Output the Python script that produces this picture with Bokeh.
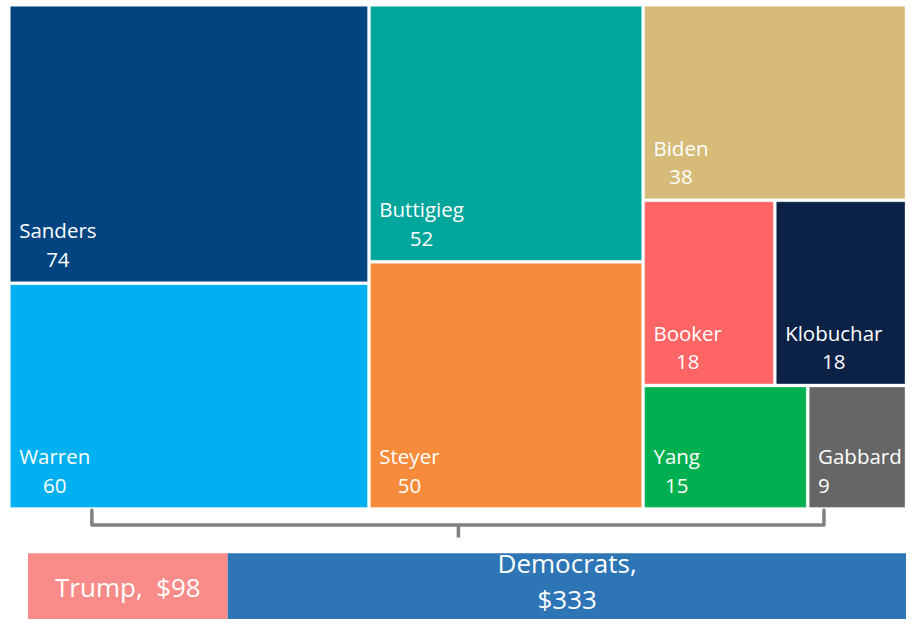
from bokeh.plotting import figure
from bokeh.models import Range1d, ColumnDataSource
from bokeh.core.properties import value
from bokeh.embed import file_html
from bokeh.resources import INLINE

# ---- data ----
candidates = ["Sanders", "Warren", "Buttigieg", "Steyer", "Biden", "Booker", "Klobuchar", "Yang", "Gabbard"]
amounts = [74, 60, 52, 50, 38, 18, 18, 15, 9]
cand_colors = ["#024480", "#00B0F0", "#00A59B", "#F68B3B", "#D6BC78", "#FF6565", "#0B2145", "#00B050", "#666666"]
label_align = ["center", "center", "center", "center", "center", "center", "center", "center", "left"]

totals_names = ["Trump", "Democrats"]
totals_values = [98, 333]
totals_labels = ["Trump,\u00a0 $98", "Democrats,\n$333"]
totals_colors = ["#F98B88", "#2E75B6"]

FONT = "Open Sans"

# ---- squarified treemap layout ----
def squarify(vals, x, y, w, h):
    total = sum(vals)
    scale = w * h / total
    areas = [v * scale for v in vals]
    rects = []

    def worst(row, side):
        s = sum(row)
        return max(max(side * side * r / (s * s), s * s / (side * side * r)) for r in row)

    i = 0
    while i < len(areas):
        side = min(w, h)
        row = [areas[i]]
        j = i + 1
        while j < len(areas) and worst(row + [areas[j]], side) <= worst(row, side):
            row.append(areas[j])
            j += 1
        s = sum(row)
        if w >= h:
            cw = s / h
            yy = y
            for a in row:
                rh = a / cw
                rects.append((x, yy, cw, rh))
                yy += rh
            x += cw
            w -= cw
        else:
            rh = s / w
            xx = x
            for a in row:
                rw = a / rh
                rects.append((xx, y, rw, rh))
                xx += rw
            y += rh
            h -= rh
        i = j
    return rects

TM_X, TM_Y, TM_W, TM_H = 8.5, 4.5, 913.5, 517.0
rects = squarify(amounts, TM_X, TM_Y, TM_W, TM_H)
gap = 1.5
left = [r[0] + gap for r in rects]
right = [r[0] + r[2] - gap for r in rects]
top = [r[1] + gap for r in rects]
bottom = [r[1] + r[3] - gap for r in rects]

label_x = [l + 9 for l in left]
label_y = [b - 9 for b in bottom]
label_text = [f"{n}\n{v}" for n, v in zip(candidates, amounts)]

p = figure(width=906, height=619, output_backend="svg", toolbar_location=None,
           x_range=Range1d(0, 922), y_range=Range1d(635, 0),
           min_border=0, border_fill_color="white", background_fill_color="white")
p.axis.visible = False
p.grid.visible = False
p.outline_line_color = None

src = ColumnDataSource(dict(left=left, right=right, top=top, bottom=bottom,
                            color=cand_colors))
p.quad(left="left", right="right", top="top", bottom="bottom", fill_color="color",
       line_color="white", line_alpha=0.35, line_width=1, source=src)

for al in ("center", "left"):
    idx = [i for i, a in enumerate(label_align) if a == al]
    sub = ColumnDataSource(dict(x=[label_x[i] for i in idx], y=[label_y[i] for i in idx],
                                text=[label_text[i] for i in idx]))
    p.text(x="x", y="y", text="text", source=sub, anchor="bottom_left", text_align=al,
           text_font=value(FONT), text_font_size="20.5px", text_color="white",
           text_line_height=1.02)

# ---- bracket ----
bx0, bx1, bmid = 93, 838, 466
by_top, by_line, by_tip = 523, 538, 551
p.line([bx0, bx0, bx1, bx1], [by_top, by_line, by_line, by_top], line_color="#808080",
       line_width=3.5, line_join="round", line_cap="round")
p.line([bmid, bmid], [by_line, by_tip], line_color="#808080", line_width=3.5)

# ---- totals bar ----
BAR_X0, BAR_X1, BAR_TOP, BAR_BOT = 28, 922, 567, 650
tot = sum(totals_values)
cum = [0]
for v in totals_values:
    cum.append(cum[-1] + v)
bl = [BAR_X0 + (BAR_X1 - BAR_X0) * c / tot for c in cum[:-1]]
br = [BAR_X0 + (BAR_X1 - BAR_X0) * c / tot for c in cum[1:]]
p.quad(left=bl, right=br, top=[BAR_TOP] * 2, bottom=[BAR_BOT] * 2, fill_color=totals_colors,
       line_color=None)
p.text(x=[(a + b) / 2 for a, b in zip(bl, br)], y=[602, 596], text=totals_labels,
       text_align="center", text_baseline="middle", text_font=value(FONT),
       text_font_size="26px", text_color="white", text_line_height=1.0)

open("out.html", "w").write(file_html(p, INLINE))
